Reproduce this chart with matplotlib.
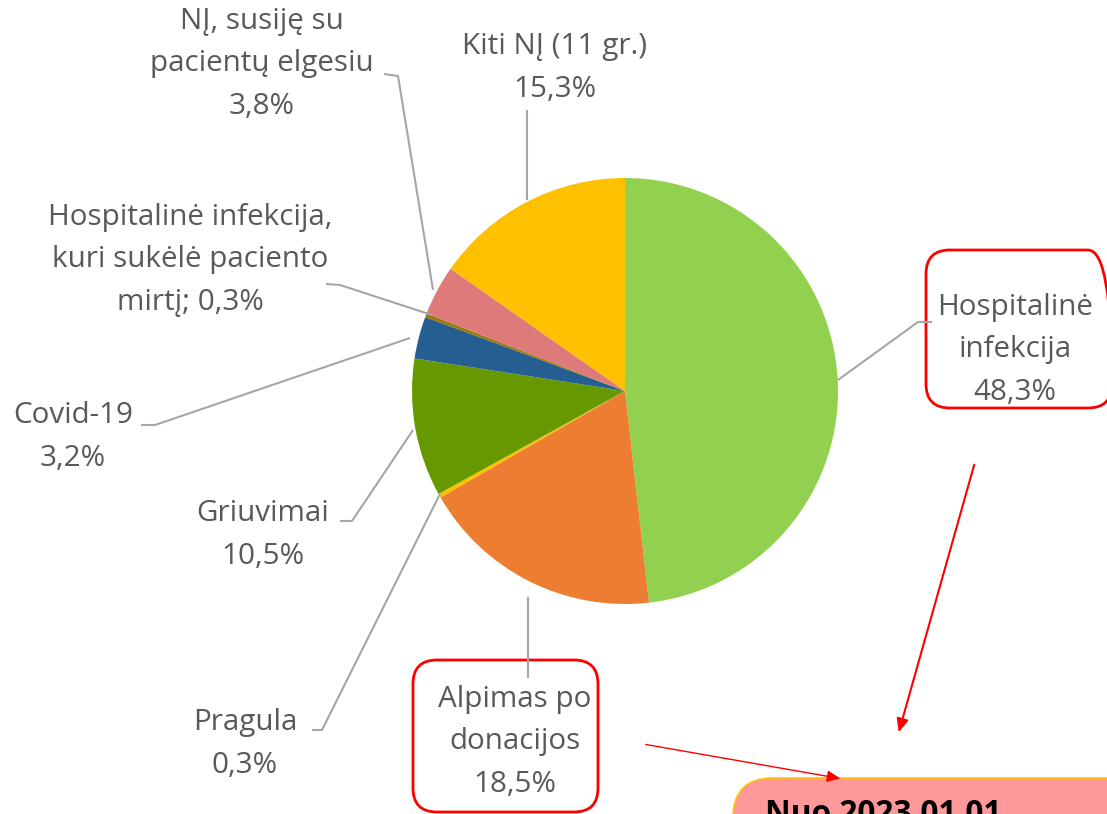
import matplotlib.pyplot as plt
from matplotlib.patches import FancyBboxPatch

W, H = 1107, 814

# duomenys
labels = [
    "Hospitalinė\ninfekcija",
    "Alpimas po\ndonacijos",
    "Pragula",
    "Griuvimai",
    "Covid-19",
    "Hospitalinė infekcija,\nkuri sukėlė paciento\nmirtį;",
    "NĮ, susiję su\npacientų elgesiu",
    "Kiti NĮ (11 gr.)",
]
values = [48.3, 18.5, 0.3, 10.5, 3.2, 0.3, 3.8, 15.3]
colors = ["#92D050", "#ED7D31", "#FFC000", "#669900", "#255E91",
          "#9C7A10", "#DF7A7A", "#FFC000"]


def P(x, y):
    # pikseliai (nuo viršaus) -> ašies koordinatės
    return x, H - y


plt.rcParams['font.family'] = ['Open Sans', 'DejaVu Sans']

fig = plt.figure(figsize=(W / 100, H / 100), dpi=100)
ax = fig.add_axes([0, 0, 1, 1])

ax.pie(values, colors=colors, startangle=90, counterclock=False,
       center=P(625, 391), radius=213, wedgeprops=dict(linewidth=0))
ax.set_xlim(0, W)
ax.set_ylim(0, H)
ax.set_aspect('equal')
ax.axis('off')

# etikečių vietos ir linijos (pikseliais)
label_pos = [(1015, 350), (515, 742), (245, 744), (263, 535), (73, 437),
             (190, 260), (262, 64), (555, 68)]
leaders = [
    [(838, 380), (918, 322), (932, 322)],
    [(528, 597), (528, 678)],
    [(440, 494), (322, 730), (312, 730)],
    [(413, 430), (352, 521), (340, 521)],
    [(410, 338), (155, 425), (141, 425)],
    [(432, 315), (340, 285), (326, 284)],
    [(433, 290), (398, 76), (384, 74)],
    [(527, 200), (527, 110)],
]

for lab, val, pos, path in zip(labels, values, label_pos, leaders):
    pct = f"{val:.1f}%".replace(".", ",")
    if lab.endswith(";"):
        txt = lab + " " + pct
    else:
        txt = lab + "\n" + pct
    xs, ys = zip(*[P(x, y) for x, y in path])
    ax.plot(xs, ys, color="#A6A6A6", lw=1.5, solid_capstyle='butt')
    ax.text(*P(*pos), txt, ha='center', va='center', fontsize=21.3,
            color="#595959", linespacing=1.63)

# raudoni rėmeliai
for (x0, y0, x1, y1) in [(926, 250, 1112, 408), (413, 660, 598, 812)]:
    box = FancyBboxPatch(P(x0, y1), x1 - x0, y1 - y0,
                         boxstyle="round,pad=0,rounding_size=24",
                         fc="none", ec="red", lw=2)
    ax.add_patch(box)

# rožinis langelis apačioje
note = FancyBboxPatch(P(733, 860), 420, 82,
                      boxstyle="round,pad=0,rounding_size=40",
                      fc="#FF9999", ec="#FFC000", lw=1.2, clip_on=False)
ax.add_patch(note)
ax.text(*P(765, 798), "Nuo 2023.01.01", ha='left', va='top',
        fontsize=22.8, fontweight='bold', color="black")

# rodyklės
ax.annotate("", xy=P(898, 735), xytext=P(975, 462),
            arrowprops=dict(arrowstyle="-|>,head_length=0.8,head_width=0.35",
                            color="red", lw=1.5))
ax.annotate("", xy=P(843, 779), xytext=P(643, 744),
            arrowprops=dict(arrowstyle="-|>,head_length=0.8,head_width=0.35",
                            color="red", lw=1))

fig.savefig("out.png", dpi=100)
